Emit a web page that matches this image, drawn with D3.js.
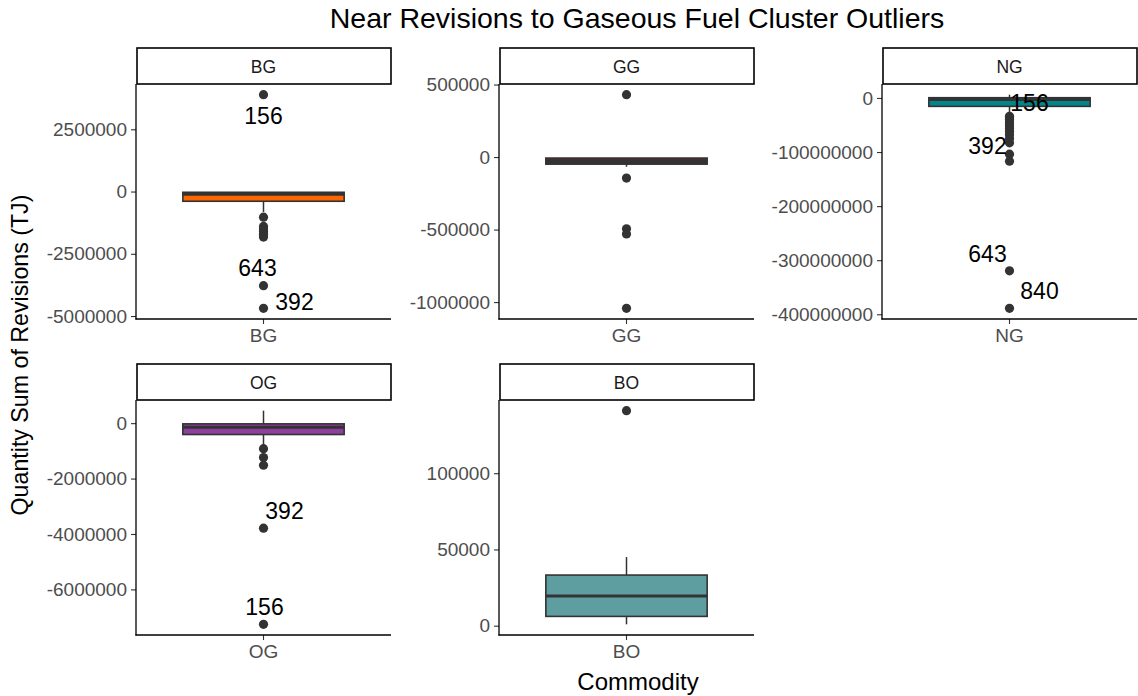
<!DOCTYPE html>
<html>
<head>
<meta charset="utf-8">
<script src="https://cdn.jsdelivr.net/npm/d3@7"></script>
<style>
  html, body { margin: 0; padding: 0; background: #ffffff; }
  svg { display: block; font-family: "Liberation Sans", Arial, Helvetica, sans-serif; }
</style>
</head>
<body>
<svg id="chart" width="1138" height="696"></svg>
<script>
// Commodities, one facet each
const commodities = ["BG", "GG", "NG", "OG", "BO"];
const fillColors = ["#FF6600", "#4A2C2C", "#00868B", "#8E3F9E", "#5F9EA0"];

// Box-plot summary per commodity (TJ)
const whiskerLow  = [-820000, -67000, -28000000, -820000, 900];
const q1Values    = [-390000, -49000, -15500000, -410000, 6100];
const medians     = [-110000, -30000, -3000000, -145000, 19400];
const q3Values    = [-30000, -7000, 500000, -25000, 33200];
const whiskerHigh = [-30000, -7000, 6100000, 450000, 45000];

// Outlying observations per commodity (TJ)
const outliersBG = [3890000, -1030000, -1400000, -1500000, -1600000, -1720000, -1830000, -3780000, -4690000];
const outliersGG = [430000, -145000, -495000, -530000, -1043000];
const outliersNG = [-34000000, -37000000, -40000000, -44000000, -48000000, -52000000, -57000000,
                    -62000000, -68000000, -75000000, -83000000, -104000000, -117000000,
                    -319600000, -389000000];
const outliersOG = [-920000, -1240000, -1520000, -3790000, -7260000];
const outliersBO = [141000];
const outliers = [outliersBG, outliersGG, outliersNG, outliersOG, outliersBO];

// Labelled observations: facet, id, value
const labelFacets = ["BG", "BG", "BG", "NG", "NG", "NG", "NG", "OG", "OG"];
const labelIds    = ["156", "643", "392", "156", "392", "643", "840", "392", "156"];
const labelValues = [3890000, -3780000, -4690000, -3000000, -83000000, -319600000, -389000000, -3790000, -7260000];

// Y-axis tick values per facet
const ticksBG = [-5000000, -2500000, 0, 2500000];
const ticksGG = [-1000000, -500000, 0, 500000];
const ticksNG = [-400000000, -300000000, -200000000, -100000000, 0];
const ticksOG = [-6000000, -4000000, -2000000, 0];
const ticksBO = [0, 50000, 100000];
const tickSets = [ticksBG, ticksGG, ticksNG, ticksOG, ticksBO];

// Text
const titleText = "Near Revisions to Gaseous Fuel Cluster Outliers";
const xTitle = "Commodity";
const yTitle = "Quantity Sum of Revisions (TJ)";

// ---- layout ----
const panelW = 255, panelH = 235, stripH = 36;
const colX = [136, 499, 882];
const rowY = [84, 400];
const panels = commodities.map((c, i) => ({
  key: c,
  x: colX[i % 3],
  y: rowY[Math.floor(i / 3)]
}));

// label nudges in pixels (dx, dy of text centre from the point)
const labelNudge = [[0, 21], [-6, -18], [31, -6], [20, 3], [-22, 3], [-22, -17], [30, -17], [21, -17], [1, -17]];

const fmt = d3.formatLocale({ decimal: ".", thousands: ",", grouping: [3], currency: ["$", ""], minus: "-" }).format("d");

const svg = d3.select("#chart");
const ink = "#333333";

svg.append("text")
  .attr("x", 637).attr("y", 28)
  .attr("text-anchor", "middle")
  .attr("font-size", 28.5)
  .attr("fill", "#000")
  .text(titleText);

svg.append("text")
  .attr("x", 638).attr("y", 690)
  .attr("text-anchor", "middle")
  .attr("font-size", 24)
  .attr("fill", "#000")
  .text(xTitle);

svg.append("text")
  .attr("transform", "translate(28,355) rotate(-90)")
  .attr("text-anchor", "middle")
  .attr("font-size", 23.2)
  .attr("fill", "#000")
  .text(yTitle);

panels.forEach((p, i) => {
  const pts = outliers[i];
  const all = pts.concat([whiskerLow[i], whiskerHigh[i], q1Values[i], q3Values[i]]);
  const lo = d3.min(all), hi = d3.max(all);
  const pad = (hi - lo) * 0.05;
  const y = d3.scaleLinear().domain([lo - pad, hi + pad]).range([p.y + panelH, p.y]);
  const x = d3.scaleBand().domain([p.key]).range([p.x, p.x + panelW]).padding(0.225);
  const cx = x(p.key) + x.bandwidth() / 2;

  const g = svg.append("g");

  // strip
  g.append("rect")
    .attr("x", p.x + 1).attr("y", p.y - stripH)
    .attr("width", panelW - 1).attr("height", stripH)
    .attr("fill", "#fff").attr("stroke", "#000").attr("stroke-width", 1.6);
  g.append("text")
    .attr("x", p.x + panelW / 2).attr("y", p.y - stripH / 2 + 6.5)
    .attr("text-anchor", "middle").attr("font-size", 17.5).attr("fill", "#1a1a1a")
    .text(p.key);

  // y axis
  const yAxis = g.append("g")
    .attr("transform", `translate(${p.x},0)`)
    .call(d3.axisLeft(y).tickValues(tickSets[i]).tickFormat(fmt).tickSize(5).tickPadding(4));
  yAxis.select(".domain").remove();
  yAxis.selectAll(".tick line").attr("stroke", ink).attr("stroke-width", 1.1);
  yAxis.selectAll(".tick text").attr("font-size", 19).attr("fill", "#4D4D4D")
    .attr("font-family", "Liberation Sans, Arial, sans-serif");

  // x axis
  const xAxis = g.append("g")
    .attr("transform", `translate(0,${p.y + panelH})`)
    .call(d3.axisBottom(x).tickSize(5).tickPadding(5));
  xAxis.select(".domain").remove();
  xAxis.selectAll(".tick line").attr("stroke", ink).attr("stroke-width", 1.1);
  xAxis.selectAll(".tick text").attr("font-size", 19).attr("fill", "#4D4D4D")
    .attr("font-family", "Liberation Sans, Arial, sans-serif");

  // axis lines
  g.append("line")
    .attr("x1", p.x).attr("x2", p.x)
    .attr("y1", p.y).attr("y2", p.y + panelH + 0.6)
    .attr("stroke", "#000").attr("stroke-width", 1.3);
  g.append("line")
    .attr("x1", p.x - 0.6).attr("x2", p.x + panelW)
    .attr("y1", p.y + panelH).attr("y2", p.y + panelH)
    .attr("stroke", "#000").attr("stroke-width", 1.3);

  // whiskers
  g.append("line")
    .attr("x1", cx).attr("x2", cx)
    .attr("y1", y(whiskerLow[i])).attr("y2", y(q1Values[i]))
    .attr("stroke", ink).attr("stroke-width", 1.5);
  g.append("line")
    .attr("x1", cx).attr("x2", cx)
    .attr("y1", y(q3Values[i])).attr("y2", y(whiskerHigh[i]))
    .attr("stroke", ink).attr("stroke-width", 1.5);

  // box
  g.append("rect")
    .attr("x", x(p.key)).attr("width", x.bandwidth())
    .attr("y", y(q3Values[i])).attr("height", y(q1Values[i]) - y(q3Values[i]))
    .attr("fill", fillColors[i]).attr("stroke", ink).attr("stroke-width", 1.6);
  g.append("line")
    .attr("x1", x(p.key)).attr("x2", x(p.key) + x.bandwidth())
    .attr("y1", y(medians[i])).attr("y2", y(medians[i]))
    .attr("stroke", ink).attr("stroke-width", 3);

  // outliers
  g.selectAll("circle.out").data(pts).enter().append("circle")
    .attr("class", "out")
    .attr("cx", cx).attr("cy", d => y(d)).attr("r", 4.6)
    .attr("fill", ink);

  // labels
  labelFacets.forEach((f, k) => {
    if (f !== p.key) return;
    g.append("text")
      .attr("x", cx + labelNudge[k][0])
      .attr("y", y(labelValues[k]) + labelNudge[k][1] + 8)
      .attr("text-anchor", "middle")
      .attr("font-size", 23)
      .attr("fill", "#000")
      .text(labelIds[k]);
  });
});
</script>
</body>
</html>
